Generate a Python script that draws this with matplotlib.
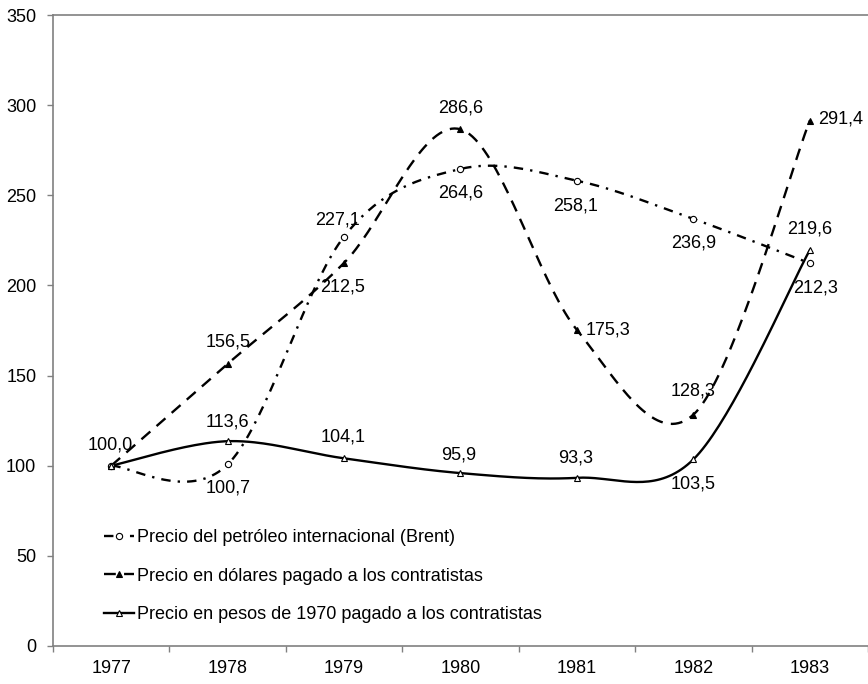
import numpy as np
import matplotlib
matplotlib.use('Agg')
import matplotlib.pyplot as plt
from matplotlib.lines import Line2D

plt.rcParams['font.family'] = ['Liberation Sans', 'DejaVu Sans']

years = ['1977', '1978', '1979', '1980', '1981', '1982', '1983']
brent = [100.0, 100.7, 227.1, 264.6, 258.1, 236.9, 212.3]
dolares = [100.0, 156.5, 212.5, 286.6, 175.3, 128.3, 291.4]
pesos = [100.0, 113.6, 104.1, 95.9, 93.3, 103.5, 219.6]

# label offsets (points) for each value; None = no label
brent_off = [(-1, 15), (0, -17), (-5, 12), (0, -17), (-1, -18), (0, -17), (4, -18)]
dolares_off = [None, (0, 16), (-1, -17), (0, 15), ('r', 0), (0, 17), ('r', 1)]
pesos_off = [None, (0, 14), (-1, 15), (-1, 13), (-1, 14), (0, -18), (0, 15)]


def smooth(x, y, n=40):
    # excel style bezier smoothing
    x = np.asarray(x, float)
    y = np.asarray(y, float)
    px = np.concatenate([[x[0]], x, [x[-1]]])
    py = np.concatenate([[y[0]], y, [y[-1]]])
    t = np.linspace(0, 1, n)[:, None]
    xs, ys = [], []
    for i in range(1, len(x)):
        p0 = np.array([px[i], py[i]])
        p3 = np.array([px[i + 1], py[i + 1]])
        c1 = p0 + (np.array([px[i + 1], py[i + 1]]) - np.array([px[i - 1], py[i - 1]])) / 6
        c2 = p3 - (np.array([px[i + 2], py[i + 2]]) - np.array([px[i], py[i]])) / 6
        b = ((1 - t) ** 3) * p0 + 3 * ((1 - t) ** 2) * t * c1 + 3 * (1 - t) * t ** 2 * c2 + t ** 3 * p3
        xs.append(b[:, 0])
        ys.append(b[:, 1])
    return np.concatenate(xs), np.concatenate(ys)


dpi = 100
fs = 13
fig = plt.figure(figsize=(868 / dpi, 684 / dpi), dpi=dpi)
ax = fig.add_axes([53 / 868, 38 / 684, 815 / 868, 631 / 684])

x = np.arange(len(years))
lw = 1.7
styles = [
    (brent, (0, (4, 3, 1, 3)), 'o', 'white', 4.5, brent_off),
    (dolares, (0, (5, 3.5)), '^', 'black', 5, dolares_off),
    (pesos, '-', '^', 'white', 5, pesos_off),
]
handles = []
for vals, ls, mk, mfc, ms, offs in styles:
    sx, sy = smooth(x, vals)
    ax.plot(sx, sy, color='black', lw=lw, linestyle=ls, zorder=2)
    ax.plot(x, vals, linestyle='none', marker=mk, mfc=mfc, mec='black', mew=0.8, ms=ms, zorder=3)
    handles.append(Line2D([], [], color='black', lw=lw, linestyle=ls, marker=mk,
                          mfc=mfc, mec='black', mew=0.8, ms=ms))
    for xi, v, off in zip(x, vals, offs):
        if off is None:
            continue
        txt = f'{v:.1f}'.replace('.', ',')
        if off[0] == 'r':
            ax.annotate(txt, (xi, v), xytext=(6, off[1]), textcoords='offset points',
                        ha='left', va='center', fontsize=fs)
        else:
            ax.annotate(txt, (xi, v), xytext=off, textcoords='offset points',
                        ha='center', va='center', fontsize=fs)

ax.set_xlim(-0.5, 6.5)
ax.set_ylim(0, 350)
ax.set_yticks(range(0, 351, 50))
ax.set_xticks(x)
ax.set_xticklabels(years)
ax.set_xticks(np.arange(-0.5, 6.6, 1), minor=True)
ax.tick_params(axis='x', which='major', length=0, pad=10, labelsize=fs)
ax.tick_params(axis='x', which='minor', length=4, color='#808080', width=1)
ax.tick_params(axis='y', length=4, color='#808080', width=1, pad=8, labelsize=fs)
for s in ['left', 'bottom', 'top']:
    ax.spines[s].set_color('#808080')
    ax.spines[s].set_linewidth(1.2)
ax.spines['right'].set_visible(False)

labels = ['Precio del petróleo internacional (Brent)',
          'Precio en dólares pagado a los contratistas',
          'Precio en pesos de 1970 pagado a los contratistas']
ax.legend(handles, labels, loc='lower left', bbox_to_anchor=(0.062, 0.036),
          frameon=False, fontsize=fs, handlelength=1.7, handletextpad=0.15,
          labelspacing=1.2, borderpad=0, borderaxespad=0)

fig.savefig('out.png', dpi=dpi)
